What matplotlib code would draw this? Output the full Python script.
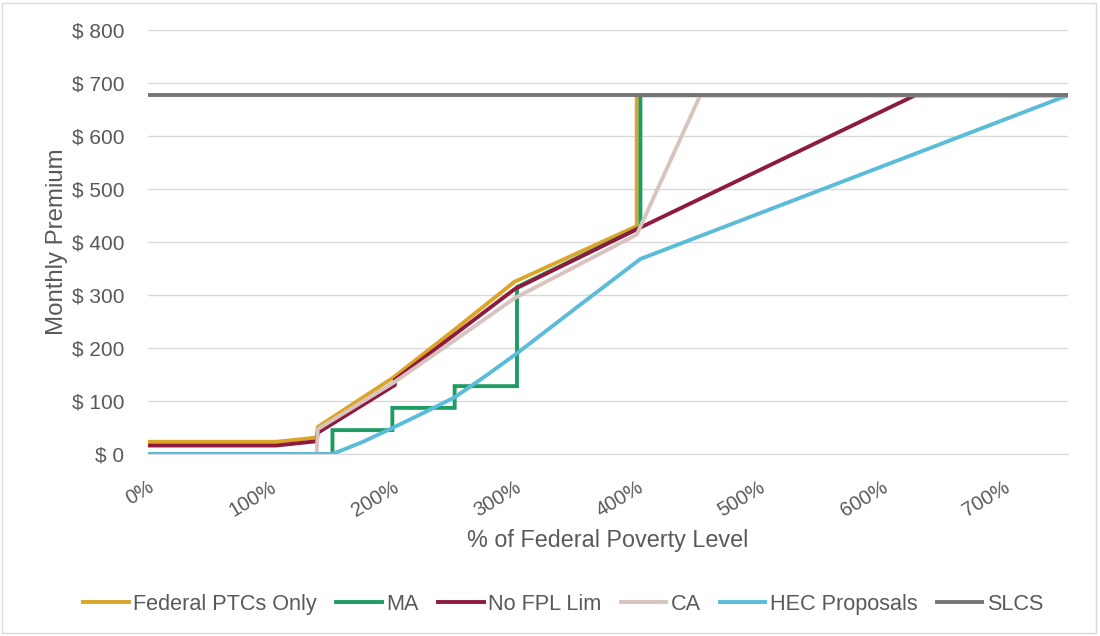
import matplotlib
matplotlib.use("Agg")
import matplotlib.pyplot as plt
import matplotlib.transforms as mtransforms
from matplotlib.patches import Rectangle

plt.rcParams['font.family'] = ['Liberation Sans', 'DejaVu Sans']

# Monthly premium by % of FPL for each policy scenario
fpl_federal = [0, 105, 138, 139, 200, 250, 300, 400, 400, 753]
prem_federal = [23, 23, 31, 51, 143, 233, 325, 430, 677, 677]

fpl_ma = [0, 151, 151, 200, 200, 251, 251, 302, 302, 403, 403, 753]
prem_ma = [0, 0, 45, 45, 87, 87, 128, 128, 315, 428, 677, 677]

fpl_nolim = [0, 105, 138, 139, 202, 202, 300, 400, 628, 753]
prem_nolim = [16, 16, 24, 40, 130, 140, 311, 424, 677, 677]

fpl_ca = [0, 138, 139, 200, 250, 300, 400, 452, 753]
prem_ca = [0, 0, 47, 133, 213, 294, 414, 677, 677]

fpl_hec = [0, 151, 175, 200, 225, 251, 275, 302, 350, 403, 753]
prem_hec = [0, 0, 22, 49, 77, 107, 145, 190, 275, 368, 677]

fpl_slcs = [0, 753]
prem_slcs = [677, 677]

x_ticks = [0, 100, 200, 300, 400, 500, 600, 700]
x_labels = ['0%', '100%', '200%', '300%', '400%', '500%', '600%', '700%']
y_ticks = [0, 100, 200, 300, 400, 500, 600, 700, 800]
y_labels = ['$ ' + str(v) for v in y_ticks]

series = [
    (fpl_federal, prem_federal, 'Federal PTCs Only', '#DBA628'),
    (fpl_ma, prem_ma, 'MA', '#1F9B63'),
    (fpl_nolim, prem_nolim, 'No FPL Lim', '#8E1B3E'),
    (fpl_ca, prem_ca, 'CA', '#D8C3BE'),
    (fpl_hec, prem_hec, 'HEC Proposals', '#5BBCD9'),
    (fpl_slcs, prem_slcs, 'SLCS', '#767676'),
]

fig = plt.figure(figsize=(11, 6.36), dpi=100)
ax = fig.add_axes([0.1345, 0.2862, 0.8365, 0.6666])

for i, (x, y, name, col) in enumerate(series):
    ax.plot(x, y, color=col, lw=2.8, label=name, zorder=3 + i,
            solid_joinstyle='miter')

ax.set_xlim(0, 753)
ax.set_ylim(0, 800)
ax.set_xticks(x_ticks)
ax.set_xticklabels(x_labels, rotation=31, ha='right', va='top',
                   rotation_mode='anchor', fontsize=14.5, color='#595959')
# nudge the slanted labels a little to the left
shift = mtransforms.ScaledTranslation(-5 / 100, 0, fig.dpi_scale_trans)
for lbl in ax.get_xticklabels():
    lbl.set_transform(lbl.get_transform() + shift)
ax.set_yticks(y_ticks)
ax.set_yticklabels(y_labels, fontsize=15, color='#595959')
ax.tick_params(length=0, pad=17, axis='y')
ax.tick_params(length=0, pad=17, axis='x')
ax.grid(axis='y', color='#D9D9D9', lw=1)
ax.set_axisbelow(True)
for s in ['top', 'right', 'left']:
    ax.spines[s].set_visible(False)
ax.spines['bottom'].set_color('#D9D9D9')

ax.set_xlabel('% of Federal Poverty Level', fontsize=16.8, color='#595959',
              labelpad=6)
ax.set_ylabel('Monthly Premium', fontsize=17.3, color='#595959', labelpad=3)

fig.legend(loc='center', bbox_to_anchor=(0.512, 0.05), ncol=6,
           frameon=False, fontsize=15.6, handlelength=2.1, handletextpad=0.2,
           columnspacing=0.9, labelcolor='#595959')

fig.patches.append(Rectangle((0.002, 0.004), 0.994, 0.992,
                             transform=fig.transFigure, fill=False,
                             edgecolor='#D9D9D9', lw=1))

fig.savefig('out.png', dpi=100)
